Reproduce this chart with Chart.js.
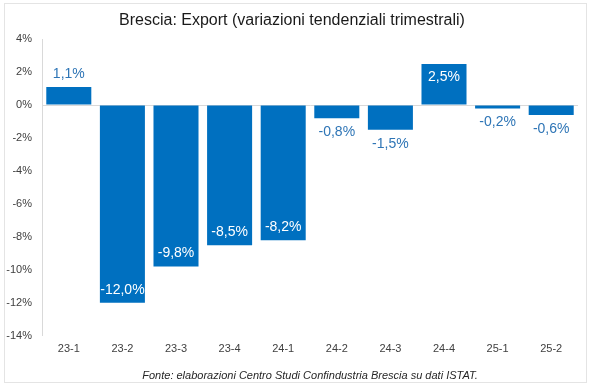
<!DOCTYPE html>
<html>
<head>
<meta charset="utf-8">
<script src="https://cdn.jsdelivr.net/npm/chart.js@4"></script>
<style>
  html, body { margin: 0; padding: 0; background: #fff; }
  canvas { display: block; }
</style>
</head>
<body>
<canvas id="exportChart" width="600" height="389"></canvas>
<script>
// Dati
const trimestri = ['23-1', '23-2', '23-3', '23-4', '24-1', '24-2', '24-3', '24-4', '25-1', '25-2'];
const variazioni = [1.1, -12.0, -9.8, -8.5, -8.2, -0.8, -1.5, 2.5, -0.2, -0.6];
const yMin = -14;
const yMax = 4;
const yStep = 2;

const titolo = 'Brescia: Export (variazioni tendenziali trimestrali)';
const fonte = 'Fonte: elaborazioni Centro Studi Confindustria Brescia su dati ISTAT.';

const blu = '#0070C0';
const fontName = '"Liberation Sans", Arial, sans-serif';

// Formato con virgola decimale
const formatPct = (v) => v.toFixed(1).replace('.', ',') + '%';

// Cornice esterna
const cornice = {
    id: 'cornice',
    beforeDraw(chart) {
        const c = chart.ctx;
        c.save();
        c.fillStyle = '#fff';
        c.fillRect(0, 0, chart.width, chart.height);
        c.strokeStyle = '#e4e4e4';
        c.lineWidth = 1;
        c.strokeRect(4.5, 3.5, 582, 379);
        c.restore();
    }
};

// Etichette dei valori
const etichette = {
    id: 'etichette',
    afterDatasetsDraw(chart) {
        const c = chart.ctx;
        const meta = chart.getDatasetMeta(0);
        c.save();
        c.font = '14px ' + fontName;
        c.textAlign = 'center';
        c.textBaseline = 'middle';
        meta.data.forEach((bar, i) => {
            const v = variazioni[i];
            const dentro = Math.abs(v) >= 2;
            let y;
            if (v >= 0) {
                y = dentro ? bar.y + 13 : bar.y - 13;
            } else {
                y = dentro ? bar.y - 13 : bar.y + 14;
            }
            c.fillStyle = dentro ? '#ffffff' : '#2e75b6';
            c.fillText(formatPct(v), bar.x, y);
        });
        c.restore();
    }
};

// Nota della fonte, centrata sull'area del grafico
const notaFonte = {
    id: 'notaFonte',
    afterDraw(chart) {
        const c = chart.ctx;
        const area = chart.chartArea;
        c.save();
        c.font = 'italic 11px ' + fontName;
        c.fillStyle = '#262626';
        c.textAlign = 'center';
        c.textBaseline = 'middle';
        c.fillText(fonte, (area.left + area.right) / 2, chart.height - 13);
        c.restore();
    }
};

new Chart(document.getElementById('exportChart'), {
    type: 'bar',
    data: {
        labels: trimestri,
        datasets: [{
            label: 'Export',
            data: variazioni,
            backgroundColor: blu,
            borderWidth: 0,
            barPercentage: 0.84,
            categoryPercentage: 1
        }]
    },
    options: {
        responsive: false,
        animation: false,
        devicePixelRatio: 1,
        layout: {
            padding: { left: 6, right: 22, top: 0, bottom: 26 }
        },
        scales: {
            x: {
                grid: { display: false, drawTicks: false },
                border: { display: false },
                ticks: {
                    color: '#404040',
                    font: { family: fontName, size: 11 },
                    padding: 7
                },
                afterFit: (scale) => {
                    scale.paddingLeft = 0;
                    scale.paddingRight = 0;
                }
            },
            y: {
                min: yMin,
                max: yMax,
                grid: {
                    drawTicks: false,
                    color: (ctx) => ctx.tick && ctx.tick.value === 0 ? '#d9d9d9' : 'rgba(0,0,0,0)'
                },
                border: { display: true, color: '#d9d9d9' },
                ticks: {
                    stepSize: yStep,
                    color: '#404040',
                    padding: 10,
                    font: { family: fontName, size: 11 },
                    callback: (value) => value + '%'
                },
                afterFit: (scale) => {
                    scale.width = 36;
                }
            }
        },
        plugins: {
            legend: { display: false },
            tooltip: { enabled: false },
            title: {
                display: true,
                text: titolo,
                color: '#1a1a1a',
                font: { family: fontName, size: 16, weight: 'normal' },
                padding: { top: 11, bottom: 9 }
            }
        }
    },
    plugins: [cornice, etichette, notaFonte]
});
</script>
</body>
</html>
